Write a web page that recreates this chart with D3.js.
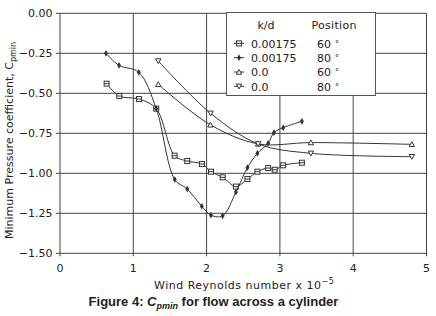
<!DOCTYPE html>
<html>
<head>
<meta charset="utf-8">
<script src="https://cdn.jsdelivr.net/npm/d3@7"></script>
<style>
  body { margin: 0; background: #fff; }
  text { font-family: "DejaVu Sans", sans-serif; fill: #222; }
  .grid line { stroke: #444; stroke-width: 1; }
  .series { fill: none; stroke: #333; stroke-width: 1; }
</style>
</head>
<body>
<div id="chart"></div>
<script>
// wind Reynolds number x 1e-5 and Cp min
var reA = [0.636, 0.809, 1.077, 1.313, 1.564, 1.736, 1.936, 2.06, 2.219, 2.40, 2.557, 2.693, 2.84, 2.93, 3.045, 3.30];
var cpA = [-0.44, -0.517, -0.536, -0.596, -0.89, -0.923, -0.942, -0.99, -1.025, -1.083, -1.036, -0.99, -0.967, -0.978, -0.95, -0.934];

var reB = [0.627, 0.805, 1.075, 1.312, 1.566, 1.736, 1.934, 2.06, 2.219, 2.40, 2.558, 2.693, 2.84, 2.918, 3.045, 3.30];
var cpB = [-0.25, -0.325, -0.369, -0.595, -1.039, -1.098, -1.206, -1.262, -1.266, -1.117, -0.964, -0.875, -0.8125, -0.746, -0.715, -0.675];

var reC = [1.34, 2.052, 2.703, 3.423, 4.80];
var cpC = [-0.444, -0.697, -0.816, -0.808, -0.819];

var reD = [1.34, 2.055, 2.703, 3.423, 4.80];
var cpD = [-0.298, -0.625, -0.816, -0.875, -0.896];

var kd = ["0.00175", "0.00175", "0.0", "0.0"];
var position = ["60", "80", "60", "80"];
var markers = ["square", "dot", "up", "down"];

var xTicks = [0, 1, 2, 3, 4, 5];
var yTicks = [0, -0.25, -0.5, -0.75, -1.0, -1.25, -1.5];

function init() {
    var w = 436, h = 316;

    var svg = d3.select("#chart").append("svg")
        .attr("width", w)
        .attr("height", h);

    var xScale = d3.scaleLinear().domain([0, 5]).range([60, 426.5]);
    var yScale = d3.scaleLinear().domain([-1.5, 0]).range([253.3, 13.3]);

    // grid
    var grid = svg.append("g").attr("class", "grid");
    grid.selectAll(".vx").data(xTicks).enter().append("line")
        .attr("x1", d => xScale(d)).attr("x2", d => xScale(d))
        .attr("y1", yScale(0)).attr("y2", yScale(-1.5) + 3);
    grid.selectAll(".hy").data(yTicks).enter().append("line")
        .attr("x1", xScale(0) - 4).attr("x2", xScale(5))
        .attr("y1", d => yScale(d)).attr("y2", d => yScale(d));

    // tick labels
    var fmt = d3.format(".2f");
    svg.selectAll(".ylab").data(yTicks).enter().append("text")
        .attr("x", 52.5)
        .attr("y", d => yScale(d) + 4)
        .attr("text-anchor", "end")
        .style("font-size", "11px")
        .text(d => fmt(d).replace("-", "\u2212"));

    svg.selectAll(".xlab").data(xTicks).enter().append("text")
        .attr("x", d => xScale(d))
        .attr("y", 271.5)
        .attr("text-anchor", "middle")
        .style("font-size", "11px")
        .text(d => d);

    // series
    var sets = [
        { re: reA, cp: cpA },
        { re: reB, cp: cpB },
        { re: reC, cp: cpC },
        { re: reD, cp: cpD }
    ];

    var line = d3.line()
        .x(d => xScale(d[0]))
        .y(d => yScale(d[1]))
        .curve(d3.curveCatmullRom.alpha(0.5));

    function drawMarker(g, type, x, y) {
        if (type === "square") {
            g.append("rect").attr("x", x - 2.5).attr("y", y - 2.5)
                .attr("width", 5).attr("height", 5)
                .attr("fill", "#fff").attr("stroke", "#333").attr("stroke-width", 1);
            g.append("line").attr("x1", x - 2.5).attr("x2", x + 2.5)
                .attr("y1", y).attr("y2", y).attr("stroke", "#333");
        } else if (type === "dot") {
            g.append("path")
                .attr("d", d3.symbol().type(d3.symbolDiamond).size(13)())
                .attr("transform", "translate(" + x + "," + y + ")")
                .attr("fill", "#333");
        } else {
            var s = type === "up" ? 1 : -1;
            g.append("path")
                .attr("d", "M" + (x - 2.7) + "," + (y + 2.2 * s) + "L" + (x + 2.7) + "," + (y + 2.2 * s) +
                    "L" + x + "," + (y - 2.6 * s) + "Z")
                .attr("fill", "#fff").attr("stroke", "#333").attr("stroke-width", 1);
        }
    }

    sets.forEach(function(s, i) {
        var pts = s.re.map((r, j) => [r, s.cp[j]]);
        svg.append("path")
            .datum(pts)
            .attr("class", "series")
            .attr("d", line);
        var g = svg.append("g");
        pts.forEach(p => drawMarker(g, markers[i], xScale(p[0]), yScale(p[1])));
    });

    // legend
    var lg = svg.append("g");
    lg.append("rect")
        .attr("x", 226.5).attr("y", 12.5)
        .attr("width", 149).attr("height", 83)
        .attr("fill", "#fff").attr("stroke", "#555");
    lg.append("text").attr("x", 266).attr("y", 28.5)
        .attr("text-anchor", "middle").style("font-size", "11px").text("k/d");
    lg.append("text").attr("x", 311.5).attr("y", 28.5)
        .style("font-size", "11px").style("letter-spacing", "0.3px").text("Position");
    kd.forEach(function(k, i) {
        var by = 47.7 + i * 14.3;
        lg.append("line").attr("x1", 234).attr("x2", 244)
            .attr("y1", by - 4.3).attr("y2", by - 4.3).attr("stroke", "#333");
        drawMarker(lg, markers[i], 239, by - 4.3);
        lg.append("text").attr("x", 251).attr("y", by)
            .style("font-size", "11px").text(k);
        var t = lg.append("text").attr("x", 317).attr("y", by).style("font-size", "11px");
        t.append("tspan").text(position[i]);
        t.append("tspan").attr("dx", 4).style("font-size", "8px").attr("dy", -1).text("\u00b0");
    });

    // axis titles
    var xt = svg.append("text")
        .attr("x", 154).attr("y", 289)
        .style("font-size", "11px").style("letter-spacing", "0.5px");
    xt.append("tspan").text("Wind Reynolds number  x  10");
    xt.append("tspan").attr("dy", -5).style("font-size", "8px").text("\u22125");

    var yt = svg.append("text")
        .attr("transform", "translate(12.5,239) rotate(-90)")
        .style("font-size", "11px");
    yt.append("tspan").text("Minimum Pressure coefficient, C");
    yt.append("tspan").attr("dy", 3).style("font-size", "8px").text("pmin");

    // figure caption
    var cap = svg.append("text")
        .attr("x", 213.5).attr("y", 306)
        .attr("text-anchor", "middle")
        .style("font-family", "'Liberation Sans', Arial, sans-serif")
        .style("font-weight", "bold").style("font-size", "13px");
    cap.append("tspan").text("Figure 4: ");
    cap.append("tspan").style("font-style", "italic").text("C");
    cap.append("tspan").attr("dy", 3).style("font-style", "italic").style("font-size", "9px").text("pmin");
    cap.append("tspan").attr("dy", -3).text(" for flow across a cylinder");
}
window.onload = init;
</script>
</body>
</html>
